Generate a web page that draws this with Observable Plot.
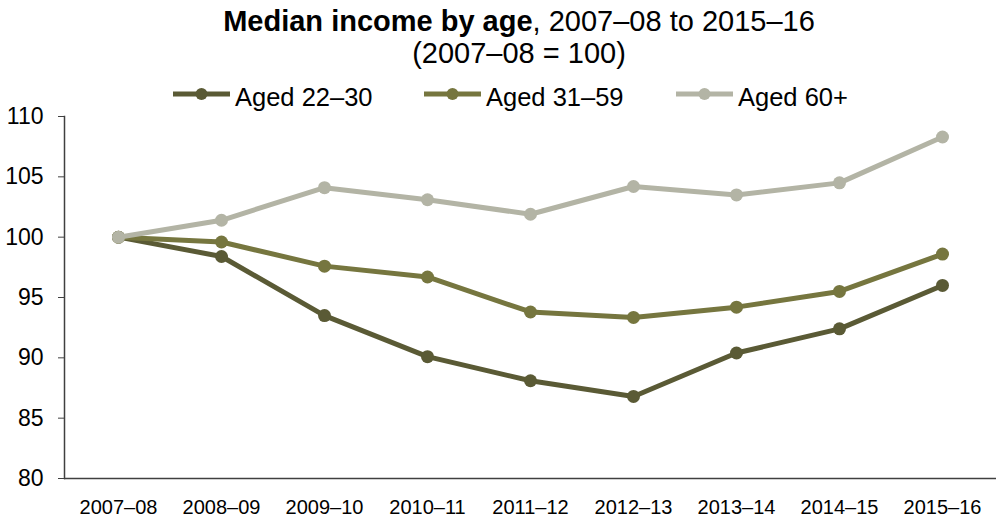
<!DOCTYPE html>
<html>
<head>
<meta charset="utf-8">
<script src="https://cdn.jsdelivr.net/npm/d3@7"></script>
<script src="https://cdn.jsdelivr.net/npm/@observablehq/plot@0.6"></script>
<style>
  html, body { margin: 0; padding: 0; background: #fff; }
  body { width: 997px; height: 520px; overflow: hidden; font-family: "Liberation Sans", Arial, sans-serif; color: #000; }
  #header { position: relative; z-index: 1; width: 997px; height: 104px; }
  .t { position: absolute; left: 41px; width: 956px; text-align: center; font-size: 29px; line-height: 32px; white-space: nowrap; }
  .leg { position: absolute; top: 81px; height: 32px; line-height: 32px; display: flex; align-items: center; font-size: 25.5px; white-space: nowrap; }
  .leg svg { margin-right: 5px; position: relative; top: -3px; }
  #chart svg { display: block; }
</style>
</head>
<body>
<div id="header"></div>
<div id="chart"></div>
<script>
const years = ["2007–08","2008–09","2009–10","2010–11","2011–12","2012–13","2013–14","2014–15","2015–16"];
const seriesNames = ["Aged 22–30", "Aged 31–59", "Aged 60+"];
const aged2230 = [100, 98.4, 93.5, 90.1, 88.1, 86.8, 90.4, 92.4, 96.0];
const aged3159 = [100, 99.6, 97.6, 96.7, 93.8, 93.35, 94.2, 95.5, 98.6];
const aged60 = [100, 101.4, 104.1, 103.1, 101.9, 104.2, 103.5, 104.5, 108.3];
const yTicks = [80, 85, 90, 95, 100, 105, 110];
const colors = ["#5a5a35", "#76763f", "#b3b4a5"];

const valuesBySeries = [aged2230, aged3159, aged60];
const data = [];
seriesNames.forEach((s, i) => years.forEach((y, j) => data.push({series: s, year: y, value: valuesBySeries[i][j]})));

// Header: title, subtitle, legend
const header = document.getElementById("header");
const t1 = document.createElement("div");
t1.className = "t"; t1.style.top = "5px";
t1.innerHTML = "<b>Median income by age</b>, 2007–08 to 2015–16";
header.appendChild(t1);
const t2 = document.createElement("div");
t2.className = "t"; t2.style.top = "37px";
t2.textContent = "(2007–08 = 100)";
header.appendChild(t2);
const legLefts = [173, 424, 676];
seriesNames.forEach((s, i) => {
  const d = document.createElement("div");
  d.className = "leg";
  d.style.left = legLefts[i] + "px";
  d.innerHTML = `<svg width="57" height="14"><line x1="0" y1="7" x2="57" y2="7" stroke="${colors[i]}" stroke-width="5"/><circle cx="28.5" cy="7" r="6" fill="${colors[i]}"/></svg><span>${s}</span>`;
  header.appendChild(d);
});

const marks = [
  Plot.ruleY([80], {stroke: "#404040", strokeWidth: 1.5}),
  Plot.frame({anchor: "left", stroke: "#404040", strokeWidth: 1.5}),
  Plot.axisY({ticks: yTicks, tickSize: 6, tickPadding: 15, fontSize: 23, tickFormat: d => d, label: null, stroke: "#404040"}),
  Plot.axisX({tickSize: 0, tickPadding: 21, fontSize: 20, label: null})
];
seriesNames.forEach((s, i) => {
  const d = data.filter(r => r.series === s);
  marks.push(Plot.line(d, {x: "year", y: "value", stroke: colors[i], strokeWidth: 5}));
  marks.push(Plot.dot(d, {x: "year", y: "value", fill: colors[i], r: 6.5}));
});

const chart = Plot.plot({
  width: 997,
  height: 416,
  marginTop: 12,
  marginBottom: 42,
  marginLeft: 64,
  marginRight: 1,
  style: {fontFamily: "'Liberation Sans', Arial, sans-serif", color: "#000", background: "transparent"},
  x: {type: "point", domain: years, padding: 0.5},
  y: {domain: [80, 110]},
  marks
});
document.getElementById("chart").appendChild(chart);
</script>
</body>
</html>
